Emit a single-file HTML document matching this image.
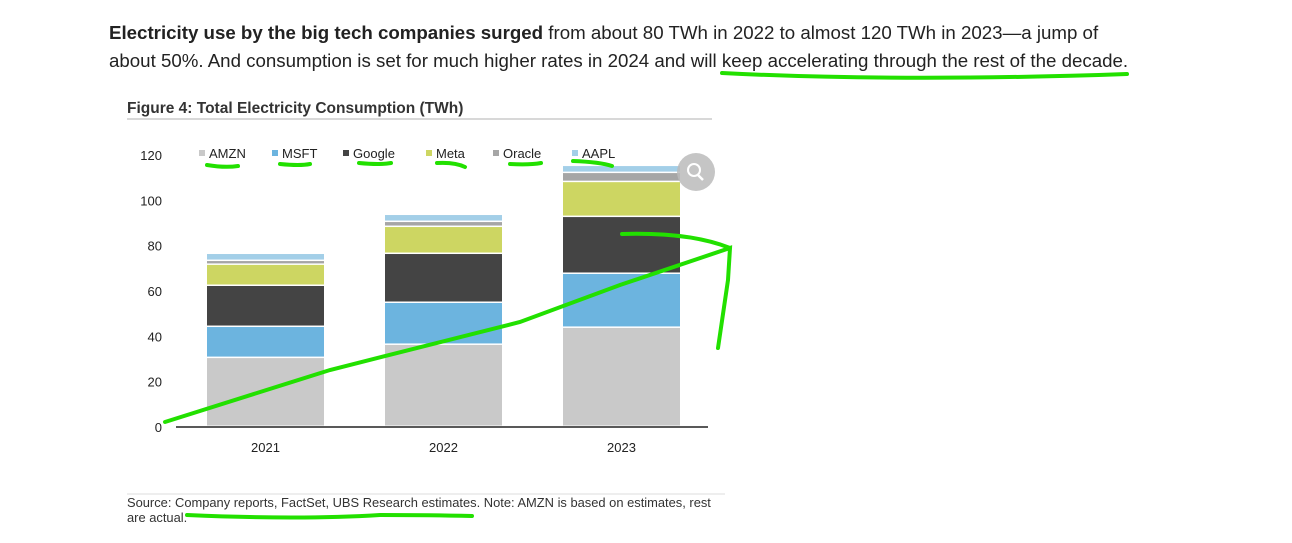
<!DOCTYPE html>
<html><head><meta charset="utf-8"><style>
body{margin:0;width:1292px;height:543px;background:#fff;overflow:hidden;position:relative;font-family:"Liberation Sans",Arial,sans-serif}
.para{position:absolute;left:109px;top:19px;width:1180px;font-size:18.7px;line-height:28px;color:#222;white-space:nowrap}
</style></head><body>
<div class="para"><b>Electricity use by the big tech companies surged</b> from about 80 TWh in 2022 to almost 120 TWh in 2023—a jump of<br>about 50%. And consumption is set for much higher rates in 2024 and will keep accelerating through the rest of the decade.</div>
<svg id="chart" width="1292" height="543" style="position:absolute;left:0;top:0">
<text x="127" y="113" font-size="15.5" font-weight="bold" fill="#333">Figure 4: Total Electricity Consumption (TWh)</text>
<line x1="127" y1="119" x2="712" y2="119" stroke="#ccc" stroke-width="1.5"/>
<g id="yticks"></g><g id="bars"></g><g id="legend"></g><g id="xlabels"></g>
<line x1="176" y1="427" x2="708" y2="427" stroke="#222" stroke-width="1.5"/>
<circle cx="696" cy="172" r="19" fill="#bbb" opacity="0.85"/>
<circle cx="694" cy="170" r="6" fill="none" stroke="#fff" stroke-width="2"/>
<line x1="698" y1="175" x2="703" y2="180" stroke="#fff" stroke-width="2.5"/>
<line x1="127" y1="494" x2="725" y2="494" stroke="#ddd"/>
<text x="127" y="507" font-size="12.9" fill="#333">Source: Company reports, FactSet, UBS Research estimates. Note: AMZN is based on estimates, rest</text>
<text x="127" y="522" font-size="12.9" fill="#333">are actual.</text>
<g fill="none" stroke="#22e000" stroke-width="4" stroke-linecap="round">
<path d="M722 73 Q900 82 1127 74"/>
<path d="M165 422 L330 370 L520 322 L620 285 L730 248 L728 280 L718 348"/>
<path d="M622 234 Q690 232 730 248"/>
<path d="M207 165 Q225 168 238 166 M280 164 Q300 166 310 164 M359 163 Q380 165 391 163 M437 163 Q455 162 465 167 M510 164 Q530 165 541 163 M573 161 Q600 162 612 166 M187 515 Q300 520 380 515 Q430 515 472 516"/>
</g>
</svg>
<script>
const categories=["2021","2022","2023"];
const series=["AMZN","MSFT","Google","Meta","Oracle","AAPL"];
const colors=["#c9c9c9","#6cb4df","#444444","#cdd662","#a6a6a6","#a3cfe8"];
const amzn=[30.4,36.2,43.7];
const msft=[13.7,18.5,23.8];
const google=[18.1,21.6,25.1];
const meta=[9.3,11.9,15.4];
const oracle=[1.7,2.2,4.0];
const aapl=[3.1,3.1,3.1];
const yTicks=[0,20,40,60,80,100,120];
const vals=[amzn,msft,google,meta,oracle,aapl];
const NS="http://www.w3.org/2000/svg";
const y=v=>427-v*2.267;
const x=i=>207+i*178;
const bw=117;
const g=document.getElementById("bars");
categories.forEach((c,i)=>{let base=0;
 vals.forEach((s,k)=>{const r=document.createElementNS(NS,"rect");
  r.setAttribute("x",x(i));r.setAttribute("y",y(base+s[i]));r.setAttribute("width",bw);
  r.setAttribute("height",Math.max(0,y(base)-y(base+s[i])-1.5));r.setAttribute("fill",colors[k]);
  
  
  g.appendChild(r);base+=s[i];});
 const t=document.createElementNS(NS,"text");t.setAttribute("x",x(i)+bw/2);t.setAttribute("y",452);
 t.setAttribute("text-anchor","middle");t.setAttribute("font-size","13");t.setAttribute("fill","#222");t.textContent=c;
 
 
 document.getElementById("xlabels").appendChild(t);});
yTicks.forEach(v=>{const t=document.createElementNS(NS,"text");t.setAttribute("x",162);t.setAttribute("y",y(v)+5);
 t.setAttribute("text-anchor","end");t.setAttribute("font-size","13");t.setAttribute("fill","#222");t.textContent=v;
 
 
 document.getElementById("yticks").appendChild(t);});
const lx=[199,272,343,426,493,572];
series.forEach((s,k)=>{const lg=document.getElementById("legend");
 const r=document.createElementNS(NS,"rect");r.setAttribute("x",lx[k]);r.setAttribute("y",150);r.setAttribute("width",6);r.setAttribute("height",6);r.setAttribute("fill",colors[k]);
 
 
 lg.appendChild(r);
 const t=document.createElementNS(NS,"text");t.setAttribute("x",lx[k]+10);t.setAttribute("y",158);t.setAttribute("font-size","13");t.setAttribute("fill","#222");t.textContent=s;
 
 
 lg.appendChild(t);});
</script>
</body></html>
